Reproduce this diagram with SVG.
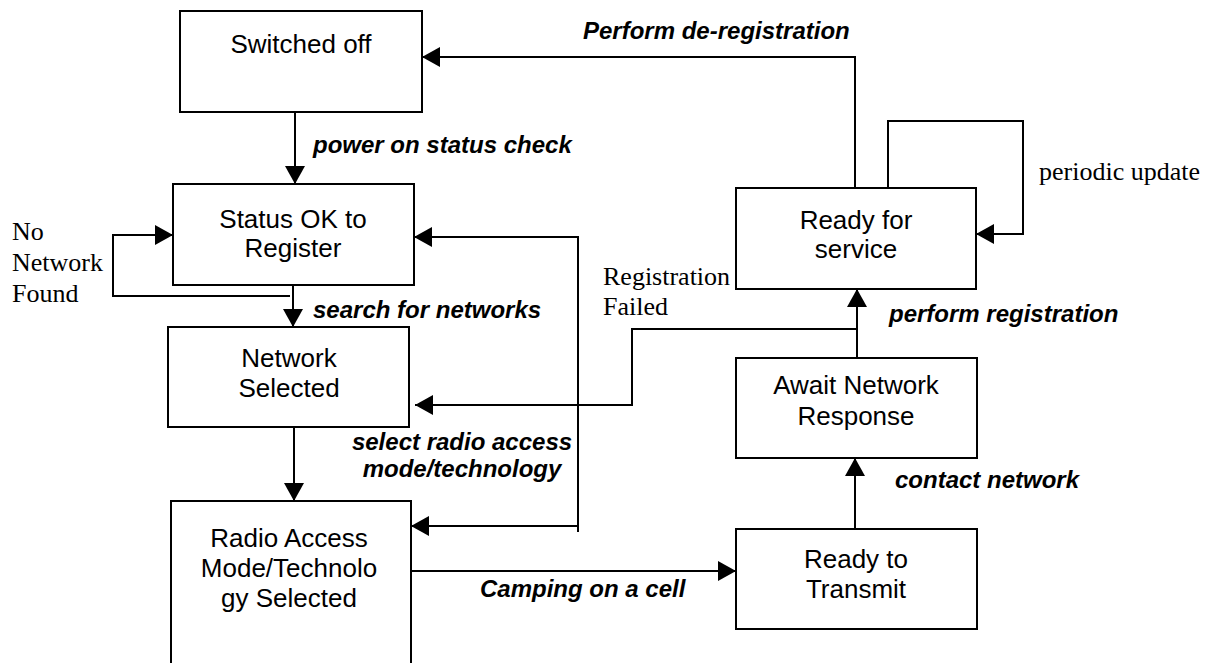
<svg xmlns="http://www.w3.org/2000/svg" width="1211" height="663" viewBox="0 0 1211 663">
<style>
.box{fill:#fff;stroke:#000;stroke-width:2}
.bt{font-family:"Liberation Sans",Arial,sans-serif;font-size:26px;fill:#000;text-anchor:middle}
.lb{font-family:"Liberation Sans",Arial,sans-serif;font-size:24px;font-weight:bold;font-style:italic;fill:#000}
.tm{font-family:"Liberation Serif","Times New Roman",serif;font-size:26px;fill:#000}
.cn{fill:none;stroke:#000;stroke-width:2}
</style>
<defs>
<marker id="ah" markerUnits="userSpaceOnUse" markerWidth="18" markerHeight="20" refX="18" refY="10" orient="auto">
<path d="M0,0 L18,10 L0,20 z" fill="#000"/>
</marker>
</defs>
<rect width="1211" height="663" fill="#fff"/>
<g id="connectors">
<path class="cn" d="M295,112 V184" marker-end="url(#ah)"/>
<path class="cn" d="M290,296 H113 V235 H173" marker-end="url(#ah)"/>
<path class="cn" d="M293,285 V327" marker-end="url(#ah)"/>
<path class="cn" d="M294,427 V501" marker-end="url(#ah)"/>
<path class="cn" d="M578,532 V237 H414" marker-end="url(#ah)"/>
<path class="cn" d="M578,526 H411" marker-end="url(#ah)"/>
<path class="cn" d="M857,329 H632 V405 H415" marker-end="url(#ah)"/>
<path class="cn" d="M409,571 H736" marker-end="url(#ah)"/>
<path class="cn" d="M855,529 V458" marker-end="url(#ah)"/>
<path class="cn" d="M857,358 V289" marker-end="url(#ah)"/>
<path class="cn" d="M888,188 V121 H1023 V234 H976" marker-end="url(#ah)"/>
<path class="cn" d="M855,188 V57 H422" marker-end="url(#ah)"/>
<text class="lb" x="583" y="39">Perform de-registration</text>
<text class="lb" x="313" y="153">power on status check</text>
<text class="lb" x="313" y="318">search for networks</text>
<text class="lb" x="889" y="322">perform registration</text>
<text class="lb" x="462" y="450" text-anchor="middle">select radio access</text>
<text class="lb" x="462" y="477" text-anchor="middle">mode/technology</text>
<text class="lb" x="895" y="488">contact network</text>
<text class="lb" x="480" y="597">Camping on a cell</text>
<text class="tm" x="12" y="240">No</text>
<text class="tm" x="12" y="271">Network</text>
<text class="tm" x="12" y="302">Found</text>
<text class="tm" x="603" y="285">Registration</text>
<text class="tm" x="603" y="315">Failed</text>
<text class="tm" x="1039" y="180">periodic update</text>
</g>
<g id="switched-off">
<rect class="box" x="180" y="11" width="242" height="101"/>
<text class="bt" x="301" y="53">Switched off</text>
</g>
<g id="status-ok">
<rect class="box" x="173" y="184" width="241" height="101"/>
<text class="bt" x="293" y="228">Status OK to</text>
<text class="bt" x="293" y="257">Register</text>
</g>
<g id="network-selected">
<rect class="box" x="168" y="327" width="241" height="100"/>
<text class="bt" x="289" y="367">Network</text>
<text class="bt" x="289" y="397">Selected</text>
</g>
<g id="radio-access">
<rect class="box" x="171" y="501" width="240" height="175"/>
<text class="bt" x="289" y="547">Radio Access</text>
<text class="bt" x="289" y="577">Mode/Technolo</text>
<text class="bt" x="289" y="607">gy Selected</text>
</g>
<g id="ready-for-service">
<rect class="box" x="736" y="188" width="240" height="101"/>
<text class="bt" x="856" y="229">Ready for</text>
<text class="bt" x="856" y="258">service</text>
</g>
<g id="await-response">
<rect class="box" x="736" y="358" width="241" height="100"/>
<text class="bt" x="856" y="394">Await Network</text>
<text class="bt" x="856" y="425">Response</text>
</g>
<g id="ready-to-transmit">
<rect class="box" x="736" y="529" width="241" height="100"/>
<text class="bt" x="856" y="568">Ready to</text>
<text class="bt" x="856" y="598">Transmit</text>
</g>
</svg>
